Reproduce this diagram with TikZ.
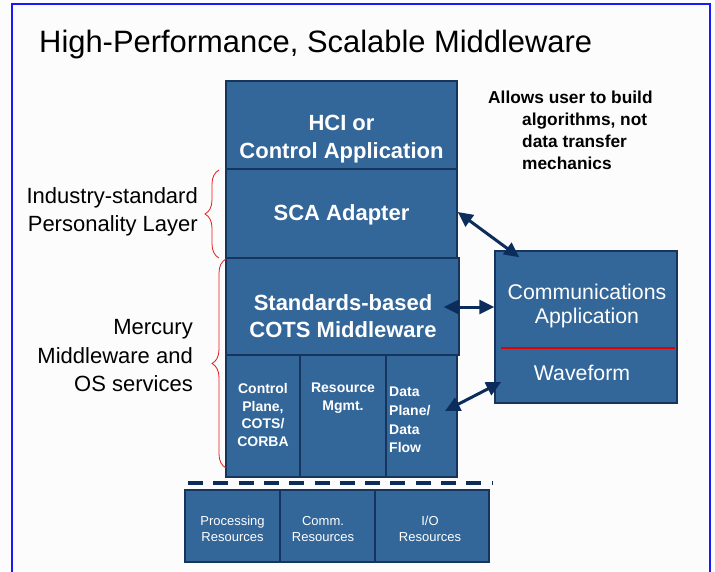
\documentclass[tikz,border=0pt]{standalone}
\usepackage{fontspec}
\setmainfont{Liberation Sans}
\usetikzlibrary{arrows.meta,decorations.pathreplacing,calc}
\definecolor{boxblue}{RGB}{51,102,153}
\definecolor{boxedge}{RGB}{22,52,92}
\definecolor{arrownavy}{RGB}{12,45,92}
\definecolor{frameblue}{RGB}{25,25,250}
\definecolor{bracered}{RGB}{235,25,25}
\begin{document}
\begin{tikzpicture}[x=1pt,y=-1pt,
  box/.style={draw=boxedge, line width=1.5pt, fill=boxblue, inner sep=0pt},
  bigtxt/.style={text=white, font=\bfseries\fontsize{22}{27.5}\selectfont, align=center, inner sep=0pt},
  celltxt/.style={text=white, font=\bfseries\fontsize{14}{17.5}\selectfont, inner sep=0pt},
  restxt/.style={text=white, font=\fontsize{13}{16}\selectfont, align=center, inner sep=0pt},
  commtxt/.style={text=white, font=\fontsize{21.3}{24}\selectfont, align=center, inner sep=0pt},
  sidetxt/.style={text=black, font=\fontsize{22}{28.5}\selectfont, align=right, inner sep=0pt, anchor=east},
  notetxt/.style={text=black, font=\bfseries\fontsize{17.3}{22}\selectfont, align=left, inner sep=0pt, anchor=west},
  conn/.style={arrownavy, line width=3pt, {Triangle[length=15pt,width=14pt]}-{Triangle[length=15pt,width=14pt]}},
  bracket/.style={draw=bracered, line width=0.8pt, decorate, decoration={brace, amplitude=14pt}}
]
\useasboundingbox (0,0) rectangle (715,571);
\fill[white!99!black] (0,0) rectangle (715,571);
\draw[frameblue, line width=2pt] (12,580) -- (12,4) -- (710,4) -- (710,580);

% title
\node[anchor=base west, inner sep=0pt, font=\fontsize{30.9}{36}\selectfont] (title) at (39,52) {High-Performance, Scalable Middleware};

% main stack
\node[box, minimum width=231pt, minimum height=88pt] (hci) at (341.5,125) {};
\node[box, minimum width=231pt, minimum height=89pt] (sca) at (341.5,213.5) {};
\node[box, minimum width=233pt, minimum height=97pt] (cots) at (342.5,306.5) {};
\node[box, minimum width=74pt, minimum height=122pt] (cell1) at (263,416) {};
\node[box, minimum width=86pt, minimum height=122pt] (cell2) at (343,416) {};
\node[box, minimum width=71pt, minimum height=122pt] (cell3) at (421.5,416) {};

\node[bigtxt] (hcit) at (341.5,139) {HCI or\\Control Application};
\node[bigtxt] (scat) at (341.5,215) {SCA Adapter};
\node[bigtxt] (cotst) at (343,316) {Standards-based\\COTS Middleware};
\node[celltxt, align=center] (c1t) at (263,415) {Control\\Plane,\\COTS/\\CORBA};
\node[celltxt, align=center] (c2t) at (343,398) {Resource\\Mgmt.};
\node[celltxt, align=left, anchor=west, font=\bfseries\fontsize{14}{18.7}\selectfont] (c3t) at (389,420) {Data\\Plane/\\Data\\Flow};

% hardware resources
\draw[arrownavy, line width=4pt, dash pattern=on 15pt off 10.3pt] (188,483) coordinate (dl1) -- (492,483) coordinate (dl2);
\node[box, minimum width=95pt, minimum height=72pt] (res1) at (232.5,526) {};
\node[box, minimum width=95pt, minimum height=72pt] (res2) at (327.5,526) {};
\node[box, minimum width=114pt, minimum height=72pt] (res3) at (432,526) {};
\node[restxt] (r1t) at (232.5,529) {Processing\\Resources};
\node[restxt] (r2t) at (323,529) {Comm.\\Resources};
\node[restxt] (r3t) at (430,529) {I/O\\Resources};

% communications application
\node[box, minimum width=182pt, minimum height=152pt] (comm) at (586,327) {};
\node[commtxt] (commt) at (587,306) {Communications\\Application};
\node[commtxt] (wavet) at (582,373) {Waveform};
\draw[red!90!black, line width=1.5pt] ($(comm.west)+(7,21)$) -- ($(comm.east)+(-3,21)$);

% connectors
\draw[conn] ($(sca.east)+(0,-1.5)$) -- ($(comm.north west)+(25,7)$);
\draw[conn] ($(cots.east)+(-16,0.5)$) -- ($(comm.west)+(0,-20)$);
\draw[conn] ($(cell3.center)+(23.5,-5)$) -- ($(comm.west)+(7,55)$);

% side labels and braces
\draw[bracket] (219,258) -- (219,170);
\draw[bracket] (226,468) -- (226,259);
\node[sidetxt] (lab1) at (198,212) {Industry-standard\\Personality Layer};
\node[sidetxt] (lab2) at (193,356) {Mercury\\Middleware and\\OS services};

% note
\node[notetxt] (note1) at (488,97) {Allows user to build};
\node[notetxt] (note2) at (522,141) {algorithms, not\\data transfer\\mechanics};
\end{tikzpicture}
\end{document}
